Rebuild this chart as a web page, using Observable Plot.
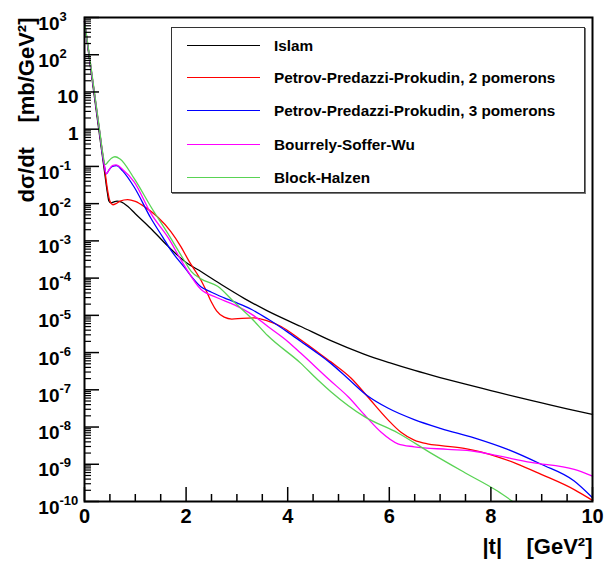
<!DOCTYPE html>
<html>
<head>
<meta charset="utf-8">
<script src="https://cdn.jsdelivr.net/npm/d3@7"></script>
<script src="https://cdn.jsdelivr.net/npm/@observablehq/plot@0.6"></script>
<style>
  body { margin: 0; background: #fff; }
  #wrap { position: relative; width: 605px; height: 570px; font-family: "Liberation Sans", Arial, sans-serif; }
  #axes { position: absolute; left: 0; top: 0; pointer-events: none; }
  #legend { position: absolute; left: 171px; top: 27px; width: 414px; height: 166px; border: 1px solid #333; box-shadow: 1px 1px 0 #777; background: #fff; box-sizing: border-box; }
  .row { position: absolute; left: 0; height: 20px; width: 100%; }
  .sample { position: absolute; left: 15px; width: 73px; height: 1.4px; top: 9px; }
  .lab { position: absolute; left: 102px; top: 0; font-size: 15.3px; font-weight: bold; line-height: 20px; white-space: nowrap; color: #000; }
</style>
</head>
<body>
<div id="wrap"><div id="axes"></div><div id="legend"></div></div>
<script>
// Model names and colours
const models = ["Islam", "Petrov-Predazzi-Prokudin, 2 pomerons", "Petrov-Predazzi-Prokudin, 3 pomerons", "Bourrely-Soffer-Wu", "Block-Halzen"];
const colors = ["#000000", "#ff0000", "#0000ff", "#ff00ff", "#59d354"];

// Curves: [|t| in GeV^2, log10(dσ/dt in mb/GeV^2)]
const islam = [[0,2.88],[0.1,1.85],[0.2,0.82],[0.3,-0.2],[0.4,-1.2],[0.45,-1.7],[0.48,-1.93],[0.52,-1.98],[0.57,-1.96],[0.64,-1.93],[0.72,-1.95],[0.85,-2.07],[1.0,-2.27],[1.3,-2.66],[1.64,-3.14],[2.0,-3.58],[2.3,-3.83],[2.7,-4.18],[3.15,-4.55],[3.6,-4.88],[4.26,-5.3],[4.85,-5.68],[5.5,-6.04],[6.0,-6.27],[6.5,-6.48],[7.0,-6.67],[7.5,-6.85],[8.0,-7.02],[8.5,-7.19],[9.0,-7.35],[9.5,-7.51],[10,-7.66]];
const ppp2 = [[0,2.9],[0.1,1.9],[0.2,0.9],[0.3,-0.1],[0.4,-1.1],[0.45,-1.6],[0.5,-1.93],[0.56,-2.03],[0.62,-2.0],[0.7,-1.93],[0.85,-1.89],[1.0,-1.94],[1.2,-2.1],[1.44,-2.36],[1.7,-2.75],[1.9,-3.16],[2.06,-3.55],[2.2,-3.85],[2.29,-4.05],[2.4,-4.35],[2.5,-4.65],[2.6,-4.88],[2.75,-5.05],[2.9,-5.1],[3.1,-5.08],[3.34,-5.07],[3.6,-5.15],[3.87,-5.3],[4.2,-5.6],[4.52,-5.92],[4.85,-6.25],[5.25,-6.69],[5.57,-7.18],[5.97,-7.8],[6.23,-8.14],[6.49,-8.35],[6.75,-8.45],[7.02,-8.5],[7.5,-8.58],[8.13,-8.8],[8.5,-8.98],[8.99,-9.27],[9.64,-9.68],[10,-9.97]];
const ppp3 = [[0,2.9],[0.1,1.9],[0.2,0.9],[0.3,-0.1],[0.38,-0.9],[0.43,-1.2],[0.48,-1.1],[0.55,-1.0],[0.63,-0.98],[0.75,-1.12],[0.98,-1.56],[1.31,-2.4],[1.54,-2.9],[1.7,-3.25],[1.96,-3.7],[2.29,-4.23],[2.5,-4.38],[2.75,-4.53],[2.95,-4.64],[3.3,-4.85],[3.61,-5.1],[4.0,-5.45],[4.26,-5.7],[4.6,-6.03],[4.85,-6.29],[5.18,-6.69],[5.57,-7.16],[5.97,-7.49],[6.49,-7.8],[7.02,-8.04],[7.67,-8.29],[8.33,-8.6],[8.99,-9.0],[9.64,-9.45],[10,-9.9]];
const bsw = [[0,2.9],[0.1,1.92],[0.2,0.92],[0.3,-0.08],[0.38,-0.88],[0.43,-1.2],[0.48,-1.1],[0.55,-0.98],[0.62,-0.96],[0.75,-1.08],[0.98,-1.42],[1.31,-2.27],[1.64,-2.9],[1.96,-3.65],[2.29,-4.3],[2.6,-4.52],[2.95,-4.72],[3.3,-4.98],[3.61,-5.3],[4.0,-5.7],[4.26,-6.02],[4.82,-6.73],[5.2,-7.2],[5.51,-7.67],[5.84,-8.14],[6.17,-8.45],[6.49,-8.53],[7.15,-8.6],[7.67,-8.65],[8.13,-8.77],[8.79,-8.95],[9.64,-9.14],[10,-9.32]];
const blockHalzen = [[0,2.9],[0.1,1.95],[0.2,0.95],[0.3,-0.05],[0.36,-0.65],[0.41,-0.95],[0.46,-0.88],[0.53,-0.78],[0.6,-0.74],[0.7,-0.8],[0.98,-1.33],[1.31,-2.09],[1.64,-2.8],[1.96,-3.52],[2.1,-3.82],[2.29,-4.02],[2.62,-4.22],[2.95,-4.65],[3.3,-5.1],[3.61,-5.55],[4.26,-6.29],[4.59,-6.73],[4.85,-7.05],[5.51,-7.72],[6.17,-8.16],[6.82,-8.7],[7.48,-9.22],[8.13,-9.72],[8.43,-10.0]];
const curves = [islam, ppp2, ppp3, bsw, blockHalzen];

// Axis ticks and labels
const xMajor = [0, 2, 4, 6, 8, 10];
const xMinor = [0.5, 1, 1.5, 2.5, 3, 3.5, 4.5, 5, 5.5, 6.5, 7, 7.5, 8.5, 9, 9.5];
const xTickLabels = ["0", "2", "4", "6", "8", "10"];
const yExponents = [-10, -9, -8, -7, -6, -5, -4, -3, -2, -1, 0, 1, 2, 3];
const yPowerLabels = [-10, -9, -8, -7, -6, -5, -4, -3, -2, -1, 2, 3];
const yPlainLabels = [[0, "1"], [1, "10"]];
const yMinorMult = [2, 3, 4, 5, 6, 7, 8, 9];
const xTitle = "|t|\u00a0\u00a0\u00a0\u00a0[GeV\u00b2]";
const yTitle = "d\u03c3/dt\u00a0\u00a0\u00a0\u00a0[mb/GeV\u00b2]";

const yMinor = [];
for (const e of yExponents.slice(0, -1)) for (const m of yMinorMult) yMinor.push(m * 10 ** e);

const data = [];
curves.forEach((c, i) => c.forEach(([t, l]) => data.push({t, v: 10 ** l, model: models[i]})));

const W = 605, H = 570, ML = 84, MR = 13, MT = 17, MB = 69;
const FW = W - ML - MR, FH = H - MT - MB;
const font = {fontWeight: "bold", fill: "black", fontFamily: "Liberation Sans"};
const dims = {width: W, height: H, marginLeft: ML, marginRight: MR, marginTop: MT, marginBottom: MB};
const xScale = {domain: [0, 10], axis: null};
const yScale = {type: "log", domain: [1e-10, 1e3], axis: null};

// Main plot: curves and texts
const chart = Plot.plot({
  ...dims,
  style: {background: "white", overflow: "visible"},
  x: xScale,
  y: yScale,
  color: {domain: models, range: colors},
  marks: [
    Plot.line(data, {x: "t", y: "v", z: "model", stroke: "model", strokeWidth: 1.3, curve: "monotone-x"}),
    Plot.text(xMajor, {x: d => d, text: (d, i) => xTickLabels[i], frameAnchor: "bottom", dy: 21, fontSize: 20, ...font}),
    Plot.text(yPowerLabels, {y: d => 10 ** d, text: () => "10", frameAnchor: "left", dx: -25, dy: 6, textAnchor: "end", fontSize: 19, ...font}),
    Plot.text(yPowerLabels, {y: d => 10 ** d, text: d => String(d), frameAnchor: "left", dx: -25, dy: -1, textAnchor: "start", fontSize: 13, ...font}),
    Plot.text(yPlainLabels, {y: d => 10 ** d[0], text: d => d[1], frameAnchor: "left", dx: -6, dy: 5, textAnchor: "end", fontSize: 19, ...font}),
    Plot.text([xTitle], {text: d => d, frameAnchor: "bottom-right", dy: 52, textAnchor: "end", fontSize: 22, ...font}),
    Plot.text([yTitle], {text: d => d, frameAnchor: "top-left", dx: -66, rotate: -90, textAnchor: "end", fontSize: 22, ...font})
  ]
});

// Overlay plot: frame and tick marks, same scales
const axes = Plot.plot({
  ...dims,
  style: {background: "transparent", overflow: "visible"},
  x: xScale,
  y: yScale,
  marks: [
    Plot.frame({stroke: "black", strokeWidth: 2}),
    Plot.ruleX(xMajor, {x: d => d, insetTop: FH - 14, stroke: "black", strokeWidth: 1.5}),
    Plot.ruleX(xMinor, {x: d => d, insetTop: FH - 7, stroke: "black", strokeWidth: 1.5}),
    Plot.ruleY(yExponents, {y: d => 10 ** d, insetRight: FW - 15, stroke: "black", strokeWidth: 1.5}),
    Plot.ruleY(yMinor, {y: d => d, insetRight: FW - 7, stroke: "black", strokeWidth: 1.2})
  ]
});

const wrap = document.getElementById("wrap");
wrap.insertBefore(chart, wrap.firstChild);
document.getElementById("axes").appendChild(axes);

// Legend
const legend = document.getElementById("legend");
const rowTops = [8, 40, 73, 107, 140];
models.forEach((m, i) => {
  const row = document.createElement("div");
  row.className = "row";
  row.style.top = rowTops[i] + "px";
  const s = document.createElement("div");
  s.className = "sample";
  s.style.background = colors[i];
  const t = document.createElement("div");
  t.className = "lab";
  t.textContent = m;
  row.appendChild(s); row.appendChild(t);
  legend.appendChild(row);
});
</script>
</body>
</html>
